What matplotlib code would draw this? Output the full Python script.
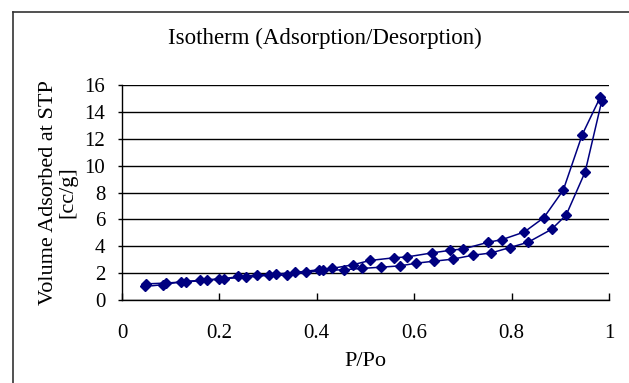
import matplotlib
matplotlib.use("Agg")
import matplotlib.pyplot as plt
from matplotlib.lines import Line2D

# Adsorption branch (lower)
ads_p = [0.048, 0.084, 0.122, 0.160, 0.200, 0.255, 0.301, 0.338, 0.377, 0.413,
         0.455, 0.493, 0.531, 0.571, 0.604, 0.641, 0.679, 0.720, 0.758, 0.796,
         0.834, 0.882, 0.912, 0.951, 0.985]
ads_v = [1.01, 1.14, 1.36, 1.46, 1.58, 1.68, 1.85, 1.85, 2.05, 2.20,
         2.25, 2.35, 2.44, 2.54, 2.74, 2.89, 3.04, 3.33, 3.50, 3.90,
         4.30, 5.26, 6.32, 9.53, 14.80]
# Desorption branch (upper)
des_p = [0.982, 0.945, 0.906, 0.866, 0.826, 0.780, 0.752, 0.701, 0.674, 0.636,
         0.586, 0.558, 0.509, 0.474, 0.431, 0.404, 0.355, 0.317, 0.277, 0.238,
         0.210, 0.174, 0.132, 0.090, 0.050]
des_v = [15.09, 12.30, 8.17, 6.12, 5.06, 4.49, 4.30, 3.80, 3.70, 3.50,
         3.21, 3.14, 2.94, 2.62, 2.35, 2.25, 2.05, 1.93, 1.85, 1.75,
         1.58, 1.46, 1.36, 1.26, 1.20]

x_ticks = [0, 0.2, 0.4, 0.6, 0.8, 1]
x_labels = ["0", "0.2", "0.4", "0.6", "0.8", "1"]
y_ticks = [0, 2, 4, 6, 8, 10, 12, 14, 16]

title = "Isotherm (Adsorption/Desorption)"
xlabel = "P/Po"
ylabel = "Volume Adsorbed at STP\n[cc/g]"

plt.rcParams['font.family'] = ['Liberation Serif', 'DejaVu Serif']
FS = 15

W, H = 629, 383
fig = plt.figure(figsize=(W / 100, H / 100), dpi=100)
ax = fig.add_axes([122 / W, 1 - 300 / H, (609 - 122) / W, (300 - 85) / H])

color = "#000080"
ax.plot(ads_p, ads_v, color=color, lw=1.1, marker="D", ms=5.5, mfc=color, mec=color, zorder=3)
ax.plot(des_p, des_v, color=color, lw=1.1, marker="D", ms=5.5, mfc=color, mec=color, zorder=3)

ax.set_xlim(0, 1)
ax.set_ylim(0, 16)
ax.set_xticks(x_ticks)
ax.set_xticklabels(x_labels)
ax.set_yticks(y_ticks)
ax.grid(axis="y", color="black", lw=1.0)
ax.set_axisbelow(True)
for s in ["top", "right"]:
    ax.spines[s].set_visible(False)
for s in ["left", "bottom"]:
    ax.spines[s].set_color("black")
    ax.spines[s].set_linewidth(1.0)
ax.tick_params(axis="x", direction="in", length=5, width=1, pad=17, labelsize=FS)
ax.tick_params(axis="y", direction="out", length=3, width=1, pad=9, labelsize=FS)

ax.set_xlabel(xlabel, fontsize=16, labelpad=7)
ax.set_ylabel(ylabel, fontsize=16, linespacing=1.05, labelpad=5)

fig.text(325 / W, 1 - 38 / H, title, fontsize=16.5, ha="center", va="center")

# outer frame (extends past right and bottom)
fig.add_artist(Line2D([13 / W, 13 / W], [1 - 12 / H, -0.05], color="#333333", lw=1.2,
                      transform=fig.transFigure))
fig.add_artist(Line2D([13 / W, 1.05], [1 - 12 / H, 1 - 12 / H], color="#333333", lw=1.2,
                      transform=fig.transFigure))

fig.savefig("out.png", dpi=100)
